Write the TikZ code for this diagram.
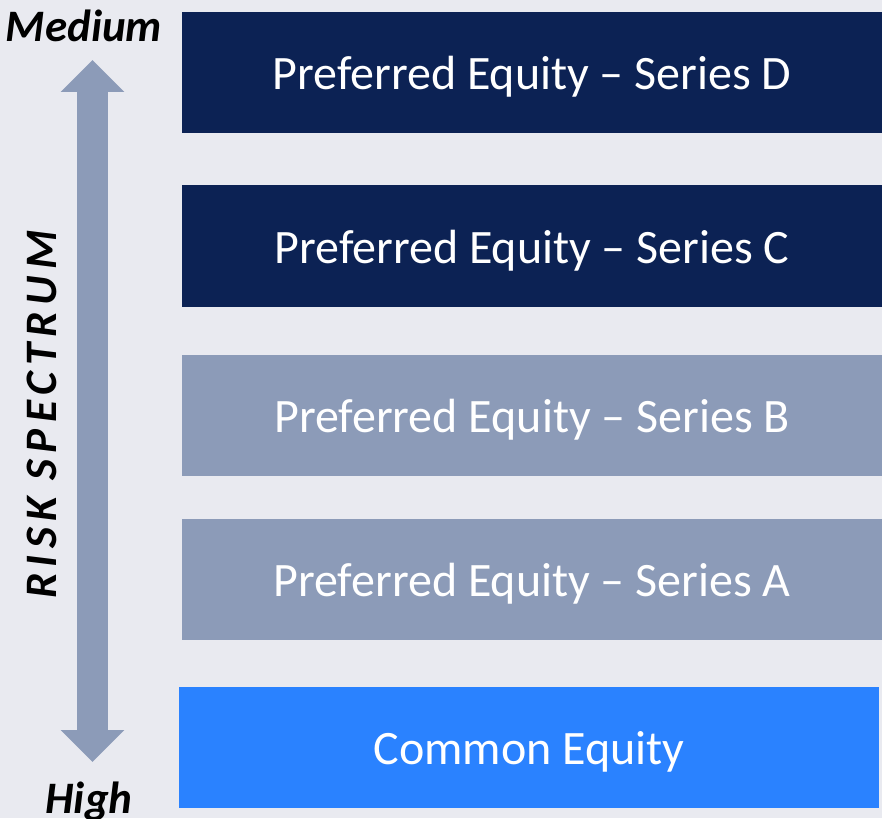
\documentclass[tikz,border=0pt]{standalone}
\usepackage{fontspec}
\setmainfont{Carlito}
\usetikzlibrary{arrows.meta}
\definecolor{navy}{HTML}{0C2254}
\definecolor{slate}{HTML}{8C9BB8}
\definecolor{brightblue}{HTML}{2A82FF}
\definecolor{paper}{HTML}{E9EAF0}

\begin{document}
\begin{tikzpicture}[x=1pt,y=-1pt,
    tier/.style={minimum width=700pt,minimum height=121pt,inner sep=0pt,text height=34pt,text depth=0pt,text=white,font=\fontsize{48}{56}\selectfont},
    endlabel/.style={inner sep=0pt,font=\fontsize{45}{54}\selectfont\bfseries\itshape}]
    \useasboundingbox (0,0) rectangle (882,818);
    \fill[paper] (0,0) rectangle (882,818);
    \node[tier,fill=navy] (seriesD) at (532,72.5) {Preferred Equity -- Series D};
    \node[tier,fill=navy] (seriesC) at (532,246) {Preferred Equity -- Series C};
    \node[tier,fill=slate] (seriesB) at (532,415.5) {Preferred Equity -- Series B};
    \node[tier,fill=slate] (seriesA) at (532,579.5) {Preferred Equity -- Series A};
    \node[tier,fill=brightblue] (common) at (529,747.5) {Common Equity};
    \node[endlabel,anchor=base] (medium) at (84,42) {Medium};
    \node[endlabel,anchor=base] (high) at (89,813) {High};
    \coordinate (top) at (92.5,60);
    \coordinate (bottom) at (92.5,762);
    \draw[slate,line width=31pt,{Triangle[width=62pt,length=32pt]}-{Triangle[width=62pt,length=32pt]}] (top)--(bottom);
    \node[endlabel,rotate=90] (risk) at (42,414.5) {\addfontfeature{LetterSpace=14}RISK SPECTRUM};
\end{tikzpicture}
\end{document}
